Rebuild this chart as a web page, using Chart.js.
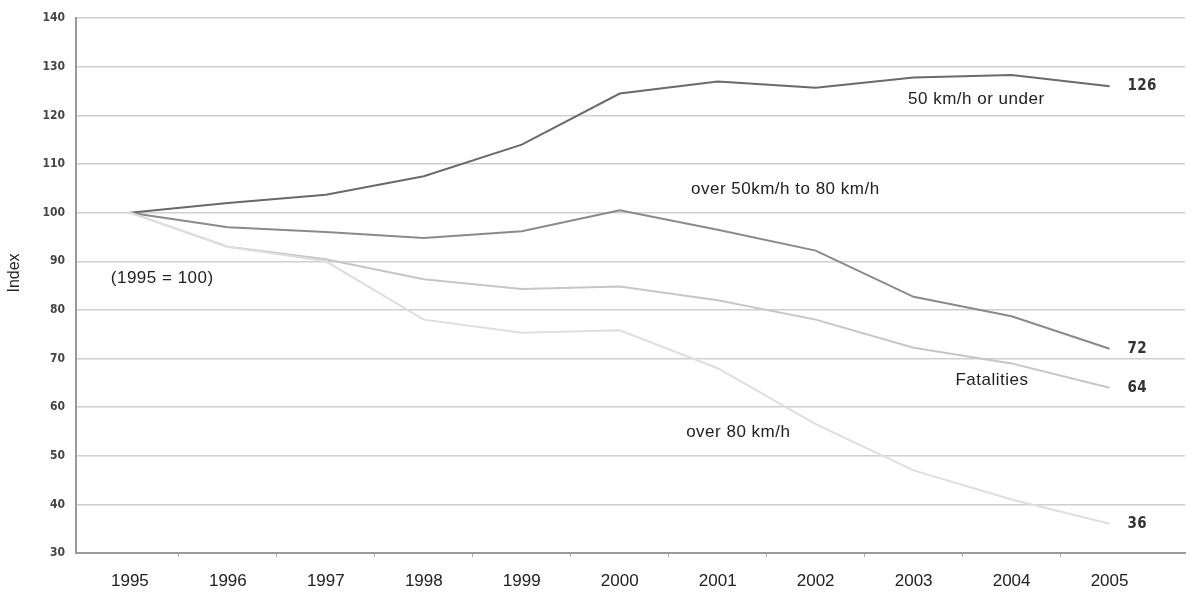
<!DOCTYPE html>
<html>
<head>
<meta charset="utf-8">
<script src="https://cdn.jsdelivr.net/npm/chart.js@4/dist/chart.umd.min.js"></script>
<style>
  html, body { margin: 0; padding: 0; background: #fff; }
  #wrap { width: 1197px; height: 592px; }
</style>
</head>
<body>
<div id="wrap"><canvas id="chart"></canvas></div>
<script>
// Data (index, 1995 = 100)
const years = [1995, 1996, 1997, 1998, 1999, 2000, 2001, 2002, 2003, 2004, 2005];
const under50 = [100, 102, 103.7, 107.5, 114, 124.5, 127, 125.7, 127.8, 128.3, 126];
const from50to80 = [100, 97, 96, 94.8, 96.2, 100.5, 96.5, 92.2, 82.7, 78.7, 72];
const fatalities = [100, 93, 90.4, 86.3, 84.3, 84.8, 82, 78, 72.2, 69, 64];
const over80 = [100, 93, 90, 78, 75.3, 75.8, 68, 56.5, 47, 41, 36];
const yTicks = [30, 40, 50, 60, 70, 80, 90, 100, 110, 120, 130, 140];

// Text labels placed at data positions
const notes = [
  { text: '50 km/h or under', x: 2003.64, y: 123.25 },
  { text: 'over 50km/h to 80 km/h', x: 2001.69, y: 104.85 },
  { text: 'Fatalities', x: 2003.8, y: 65.6 },
  { text: 'over 80 km/h', x: 2001.21, y: 54.75 },
  { text: '(1995 = 100)', x: 1995.33, y: 86.4 }
];
const endLabels = [
  { text: '126', y: 126 },
  { text: '72', y: 72 },
  { text: '64', y: 64 },
  { text: '36', y: 36 }
];

function pts(arr) {
  return arr.map((v, i) => ({ x: years[i], y: v }));
}

const textPlugin = {
  id: 'texts',
  afterDatasetsDraw(chart) {
    const ctx = chart.ctx;
    const xs = chart.scales.x, ys = chart.scales.y;
    ctx.save();
    ctx.fillStyle = '#222';
    ctx.font = '17px "Liberation Sans", Arial, sans-serif';
    ctx.letterSpacing = '0.5px';
    ctx.textBaseline = 'middle';
    ctx.textAlign = 'center';
    notes.forEach(n => {
      ctx.fillText(n.text, xs.getPixelForValue(n.x), ys.getPixelForValue(n.y));
    });
    // axis title
    ctx.save();
    ctx.translate(15, ys.getPixelForValue(87.6));
    ctx.rotate(-Math.PI / 2);
    ctx.font = '16px "Liberation Sans", Arial, sans-serif';
    ctx.letterSpacing = '0px';
    ctx.fillText('Index', 0, 0);
    ctx.restore();
    // end values
    ctx.fillStyle = '#333';
    ctx.letterSpacing = '0.3px';
    ctx.font = 'bold 15px "Liberation Sans Narrow", "DejaVu Sans Condensed", sans-serif';
    ctx.textAlign = 'left';
    endLabels.forEach(l => {
      ctx.fillText(l.text, xs.getPixelForValue(2005) + 18, ys.getPixelForValue(l.y));
    });
    ctx.restore();
  }
};

new Chart(document.getElementById('chart'), {
  type: 'line',
  data: {
    datasets: [
      { label: 'over 80 km/h', data: pts(over80), borderColor: '#dedede' },
      { label: 'Fatalities', data: pts(fatalities), borderColor: '#c6c6c6' },
      { label: 'over 50km/h to 80 km/h', data: pts(from50to80), borderColor: '#8a8a8a' },
      { label: '50 km/h or under', data: pts(under50), borderColor: '#6a6a6a' }
    ]
  },
  options: {
    responsive: true,
    maintainAspectRatio: false,
    animation: false,
    layout: { padding: { top: 13, right: 12, left: 0, bottom: 0 } },
    elements: {
      line: { borderWidth: 2, tension: 0 },
      point: { radius: 0 }
    },
    plugins: {
      legend: { display: false },
      tooltip: { enabled: false }
    },
    scales: {
      x: {
        type: 'linear',
        min: 1994.45,
        max: 2005.77,
        afterBuildTicks(scale) {
          const t = [];
          years.forEach(y => { t.push({ value: y }); if (y < 2005) t.push({ value: y + 0.5 }); });
          scale.ticks = t;
        },
        afterFit(scale) { scale.height = 39; },
        border: { color: '#9a9a9a', width: 2 },
        grid: {
          drawOnChartArea: false,
          drawTicks: true,
          tickLength: 4,
          tickColor: c => (Number.isInteger(c.tick.value) ? 'rgba(0,0,0,0)' : '#aaa')
        },
        ticks: {
          autoSkip: false,
          maxRotation: 0,
          padding: 14,
          color: '#222',
          font: { size: 17, family: '"Liberation Sans", Arial, sans-serif' },
          callback: v => (Number.isInteger(v) ? String(v) : '')
        }
      },
      y: {
        min: 30,
        max: 140,
        afterBuildTicks(scale) { scale.ticks = yTicks.map(v => ({ value: v })); },
        afterFit(scale) { scale.width = 76; },
        border: { color: '#9a9a9a', width: 2 },
        grid: { color: '#cfcfcf', lineWidth: 1.5, drawTicks: false },
        ticks: {
          padding: 11,
          color: '#444',
          font: { size: 12, weight: 'bold', family: '"Liberation Sans Narrow", "DejaVu Sans Condensed", sans-serif' }
        }
      }
    }
  },
  plugins: [textPlugin]
});
</script>
</body>
</html>
